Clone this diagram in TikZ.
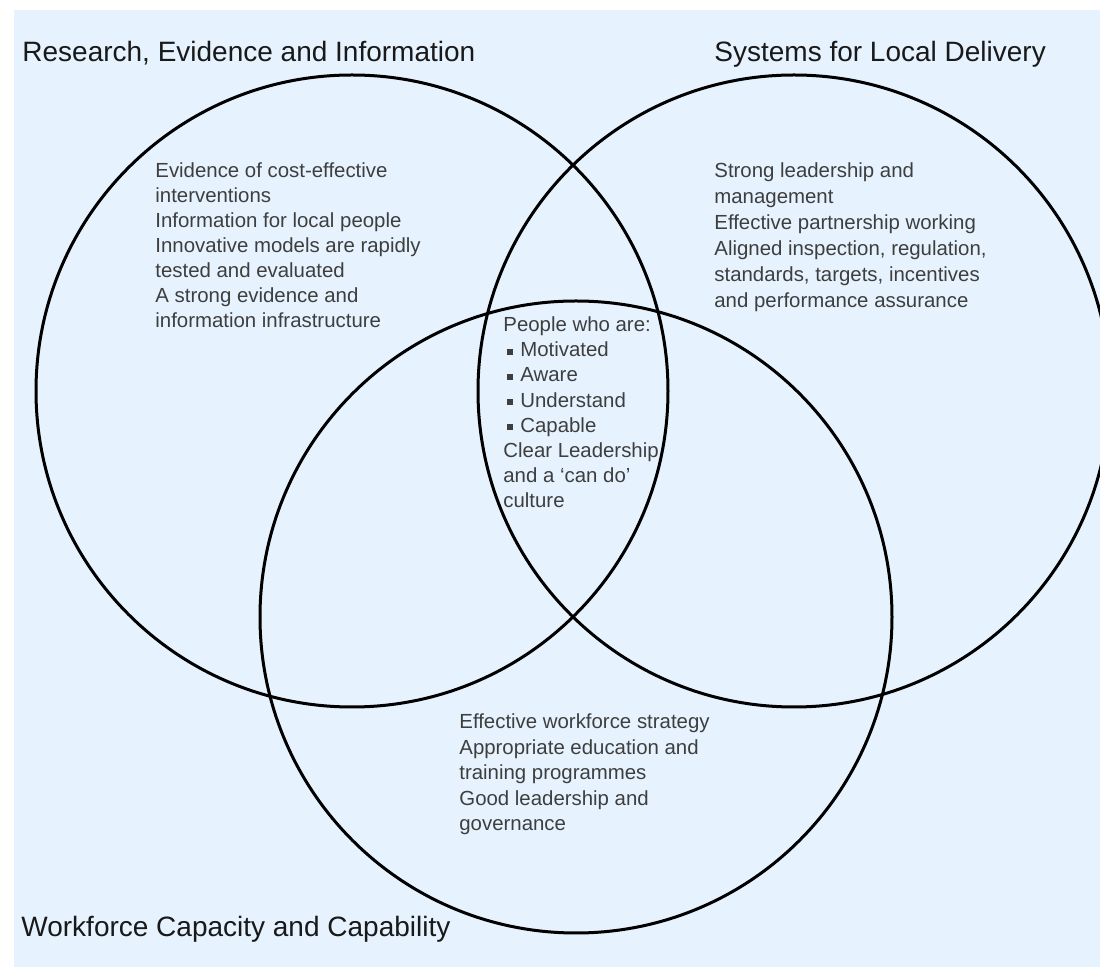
\documentclass[tikz,border=0pt]{standalone}
\usepackage{fontspec}
\setmainfont{Liberation Sans}
\definecolor{panel}{RGB}{230,243,254}
\definecolor{ink}{RGB}{62,62,62}
\tikzset{
  ring/.style={draw=black, line width=1.5pt, circle, inner sep=0pt, minimum size=316pt},
  heading/.style={anchor=base west, inner sep=0pt, font=\fontsize{14}{17}\selectfont, text=black!90},
  % multi-line blocks are placed by the baseline of their last line
  body/.style={anchor=base west, inner sep=0pt, align=left, font=\fontsize{10.2}{12.5}\selectfont, text=ink},
}
\newcommand{\sqbullet}{\hspace*{2pt}\rule[1pt]{3pt}{3pt}\hspace{3.5pt}}

\begin{document}
\begin{tikzpicture}[x=0.5pt,y=-0.5pt]
  \useasboundingbox (0,0) rectangle (1100,967);
  \fill[white] (0,0) rectangle (1100,967);
  \fill[panel] (14,10) rectangle (1100,967);

  % the three overlapping sets
  \begin{scope}
    \clip (0,0) rectangle (1100,967);
    \node[ring] (res) at (352,391) {};
    \node[ring] (sys) at (794,391) {};
    \node[ring] (wf)  at (576,617) {};
  \end{scope}

  % set titles
  \node[heading] (resT) at (22,62)  {Research, Evidence and Information};
  \node[heading] (sysT) at (714,62) {Systems for Local Delivery};
  \node[heading] (wfT)  at (21,937) {Workforce Capacity and Capability};

  % contents of each set
  \node[body] (resB) at (155,328) {Evidence of cost-effective\\
    interventions\\
    Information for local people\\
    Innovative models are rapidly\\
    tested and evaluated\\
    A strong evidence and\\
    information infrastructure};

  \node[body, font=\fontsize{10.2}{13}\selectfont] (sysB) at (714,308) {Strong leadership and\\
    management\\
    Effective partnership working\\
    Aligned inspection, regulation,\\
    standards, targets, incentives\\
    and performance assurance};

  \node[body, font=\fontsize{10.2}{12.6}\selectfont] (core) at (503,508) {People who are:\\
    \sqbullet Motivated\\
    \sqbullet Aware\\
    \sqbullet Understand\\
    \sqbullet Capable\\
    Clear Leadership\\
    and a ‘can do’\\
    culture};

  \node[body, font=\fontsize{10.2}{12.75}\selectfont] (wfB) at (459,831) {Effective workforce strategy\\
    Appropriate education and\\
    training programmes\\
    Good leadership and\\
    governance};
\end{tikzpicture}
\end{document}
